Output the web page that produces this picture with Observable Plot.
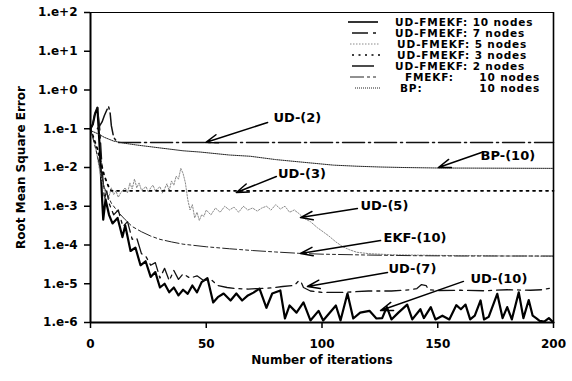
<!DOCTYPE html>
<html><head><meta charset="utf-8">
<script src="https://cdn.jsdelivr.net/npm/d3@7"></script>
<script src="https://cdn.jsdelivr.net/npm/@observablehq/plot@0.6"></script>
<style>
body{margin:0;background:#fff;}
#wrap{position:relative;width:572px;height:381px;font-family:"DejaVu Sans",sans-serif;font-weight:bold;color:#000;}
.leg{position:absolute;font-size:10.5px;line-height:11px;letter-spacing:0.85px;white-space:nowrap;}
</style></head><body><div id="wrap"></div>
<script>
const xTicks = [0, 50, 100, 150, 200];
const yTicks = [1e2, 1e1, 1e0, 1e-1, 1e-2, 1e-3, 1e-4, 1e-5, 1e-6];
const yTickLabels = ["1.e+2", "1.e+1", "1.e+0", "1.e-1", "1.e-2", "1.e-3", "1.e-4", "1.e-5", "1.e-6"];
const xTitle = "Number of iterations";
const yTitle = "Root Mean Square Error";
const legendLabels = ["UD-FMEKF:", "UD-FMEKF:", "UD-FMEKF:", "UD-FMEKF:", "UD-FMEKF:", "FMEKF:", "BP:"];
const legendCounts = ["10 nodes", "7 nodes", "5 nodes", "3 nodes", "2 nodes", "10 nodes", "10 nodes"];

// [iteration, RMSE]
const ud10 = [[0,0.1],[1,0.13],[2,0.25],[3,0.35],[4,0.03],[5,1.6e-3],[5.5,4.5e-4],[6.5,1.5e-3],[8,6e-4],[9.5,3.6e-4],[11.7,5e-4],[13.8,1.6e-4],[15,3.2e-4],[17.3,7e-5],[19.4,8.6e-5],[21.6,3e-5],[23.8,3.8e-5],[26,1.5e-5],[28,2e-5],[30,8e-6],[32,1e-5],[34,6e-6],[36,8e-6],[38,5e-6],[40,7e-6],[42,5.5e-6],[44,9e-6],[46,6e-6],[48,1.1e-5],[50.5,1.4e-5],[53,3.3e-6],[55,4.5e-6],[57.5,5.6e-6],[60.5,3.7e-6],[63,5.6e-6],[65.5,3.7e-6],[68,5e-6],[70.4,5.9e-6],[73,7.5e-6],[76,2.4e-6],[78.5,5.6e-6],[82,6.7e-6],[84,1.27e-6],[86,2.75e-6],[89,1.8e-6],[92,3.3e-6],[95,1.13e-6],[98.5,2e-6],[100.5,1.13e-6],[106,2.75e-6],[108,1.13e-6],[111,5.6e-6],[113.5,1.27e-6],[116.5,1.8e-6],[120.5,2e-6],[123.5,1.27e-6],[126,1.3e-6],[128,2.5e-6],[130,1.2e-6],[133,1.8e-6],[136.8,2.9e-6],[139,1.2e-6],[142.5,2.2e-6],[144,1.3e-6],[147,2.5e-6],[149,1.2e-6],[152,1.5e-6],[155,1.2e-6],[158,2.8e-6],[160,2.2e-6],[162,2.9e-6],[164,1.2e-6],[166,1.5e-6],[168.5,3.7e-6],[170,1.2e-6],[172,1.4e-6],[175.7,5.5e-6],[178,1.3e-6],[180,2.5e-6],[182,1.2e-6],[185,6e-6],[187,1.3e-6],[189.3,3.8e-6],[191,1.5e-6],[192.5,1.3e-6],[194,1.1e-6],[196,1.05e-6],[198,1.3e-6],[200,1e-6]];
const ud7 = [[0,0.1],[1,0.13],[2,0.28],[3,0.35],[4,0.1],[5,0.01],[6,1.5e-3],[7,2.5e-3],[8,1.2e-3],[10,6e-4],[12,8e-4],[14,3e-4],[16,4e-4],[18,1.4e-4],[20,1.5e-4],[22,6e-5],[24,5e-5],[26,3e-5],[28,3.5e-5],[30,1.4e-5],[32,2.5e-5],[34,1.2e-5],[36,2.2e-5],[38,1.3e-5],[40,1.8e-5],[43,1.4e-5],[46,1.6e-5],[49,1.2e-5],[52,1.3e-5],[55,9e-6],[59,8e-6],[63,7.5e-6],[68,7.3e-6],[72,7.5e-6],[78,7.8e-6],[83,8.5e-6],[88,9e-6],[90,1.2e-5],[91,1.1e-5],[92,8e-6],[95,6.5e-6],[100,6e-6],[110,6e-6],[120,6.5e-6],[130,6.5e-6],[138,7e-6],[141,7.5e-6],[143,9.5e-6],[145,9e-6],[146,7e-6],[150,6.7e-6],[160,6.8e-6],[170,6.6e-6],[180,7e-6],[190,6.8e-6],[195,7e-6],[200,8e-6]];
const ud5 = [[0,0.1],[2,0.04],[4,8e-3],[6,2.5e-3],[8,1.8e-3],[9,3e-3],[10,2e-3],[11,2.5e-3],[12,1.7e-3],[13,2.2e-3],[15,3e-3],[16,2.2e-3],[17,4e-3],[18,2.8e-3],[19,5e-3],[20,3e-3],[21,4e-3],[22,2.6e-3],[24,3.2e-3],[25,2.3e-3],[26,3e-3],[27,3.5e-3],[28,2.5e-3],[30,3.2e-3],[31,2.2e-3],[32,2.8e-3],[33,3.8e-3],[34,2.5e-3],[35,4.5e-3],[36,3.5e-3],[37,6e-3],[38,5e-3],[39,9.5e-3],[40,7e-3],[41,4e-3],[42,1.5e-3],[43,8e-4],[44,1.1e-3],[45,5e-4],[46,7e-4],[47,4.3e-4],[48,6e-4],[49,5.5e-4],[50,8e-4],[52,6e-4],[54,9e-4],[56,7e-4],[58,1e-3],[60,8e-4],[62,9.5e-4],[64,7e-4],[66,1e-3],[68,8e-4],[70,9e-4],[72,7.5e-4],[74,9e-4],[76,1e-3],[78,8e-4],[80,1.1e-3],[82,8.5e-4],[84,1e-3],[86,7e-4],[88,8e-4],[90,6.5e-4],[92,5e-4],[95,4e-4],[98,2.8e-4],[100,2.3e-4],[103,1.7e-4],[106,1.2e-4],[109,9e-5],[112,7.5e-5],[115,6.5e-5],[120,6e-5],[130,5.6e-5],[140,5.5e-5],[150,5.4e-5],[160,5.3e-5],[170,5.3e-5],[180,5.2e-5],[190,5.2e-5],[200,5.1e-5]];
const ud3 = [[0,0.1],[3,0.03],[6,6e-3],[8,3e-3],[9,2.5e-3],[200,2.5e-3]];
const ud2 = [[3,0.1],[4,0.12],[5,0.15],[6,0.22],[7,0.3],[7.8,0.38],[8.5,0.25],[9,0.12],[10,0.06],[11,0.05],[12,0.044],[200,0.044]];
const ekf10 = [[0,0.1],[3,0.02],[6,3e-3],[9,1.2e-3],[12,7e-4],[15,4.5e-4],[18,3e-4],[22,2.2e-4],[26,1.7e-4],[30,1.4e-4],[35,1.2e-4],[40,1.05e-4],[50,9e-5],[60,8e-5],[70,7.2e-5],[80,6.6e-5],[90,6.1e-5],[100,5.8e-5],[120,5.5e-5],[140,5.3e-5],[160,5.2e-5],[180,5.2e-5],[200,5.2e-5]];
const bp10 = [[0,0.09],[3,0.075],[6,0.06],[10,0.048],[15,0.042],[20,0.038],[30,0.032],[40,0.027],[47.5,0.025],[60,0.021],[69,0.0195],[80,0.016],[90,0.014],[105,0.0115],[115,0.0108],[125,0.0103],[135,0.01],[150,0.0097],[200,0.0095]];

// annotations: label, text anchor point, arrow tail, arrow head (data units)
const annotations = [
  {label:"UD-(2)", tx:79, ty:0.195, x1:76.5, y1:0.145, x2:49.7, y2:0.044},
  {label:"UD-(3)", tx:81, ty:7e-3, x1:80.3, y1:5.86e-3, x2:63, y2:2.26e-3},
  {label:"UD-(5)", tx:116.6, ty:1.05e-3, x1:115.3, y1:8.7e-4, x2:90.7, y2:5.1e-4},
  {label:"EKF-(10)", tx:126.6, ty:1.56e-4, x1:125.3, y1:1.3e-4, x2:90.7, y2:6.04e-5},
  {label:"UD-(7)", tx:128.7, ty:2.48e-5, x1:128.3, y1:1.95e-5, x2:93.7, y2:8.5e-6},
  {label:"UD-(10)", tx:164.1, ty:1.36e-5, x1:161.1, y1:1.15e-5, x2:125.3, y2:2.04e-6},
  {label:"BP-(10)", tx:168.5, ty:0.0204, x1:168.9, y1:0.0244, x2:150.3, y2:0.01}
];

const seriesData = [ud10, ud7, ud5, ud3, ud2, ekf10, bp10];
const styles = [
  {stroke:"#000", strokeWidth:2.2, strokeDasharray:null},
  {stroke:"#111", strokeWidth:1.3, strokeDasharray:"16,5,3,5"},
  {stroke:"#8a8a8a", strokeWidth:1, strokeDasharray:"1.5,1.5"},
  {stroke:"#000", strokeWidth:1.8, strokeDasharray:"2,4.5"},
  {stroke:"#111", strokeWidth:1.5, strokeDasharray:"22,4,2,4"},
  {stroke:"#222", strokeWidth:1, strokeDasharray:"14,3,3,3,3,3"},
  {stroke:"#222", strokeWidth:1, strokeDasharray:"1,1"}
];

const lineMarks = seriesData.map((s, i) => Plot.line(s, {
  x: d => d[0], y: d => d[1],
  stroke: styles[i].stroke, strokeWidth: styles[i].strokeWidth,
  strokeDasharray: styles[i].strokeDasharray, strokeLinejoin: "round"
}));

const chart = Plot.plot({
  width: 572, height: 381,
  marginLeft: 90, marginRight: 19, marginTop: 12, marginBottom: 59,
  style: {fontFamily: "DejaVu Sans, sans-serif", fontWeight: "bold", fontSize: "12px", color: "#000", background: "#fff"},
  x: {domain: [0, 200]},
  y: {type: "log", domain: [1e-6, 1e2]},
  marks: [
    Plot.frame({stroke: "#000", strokeWidth: 1}),
    Plot.axisX({ticks: xTicks, tickSize: 6, tickPadding: 11, strokeWidth: 1.5, label: null, fontSize: 12}),
    Plot.axisY({ticks: yTicks, tickFormat: d => yTickLabels[yTicks.indexOf(d)], tickSize: 6, tickPadding: 7, strokeWidth: 1.5, label: null, fontSize: 12}),
    ...lineMarks,
    Plot.ruleX([0], {stroke: "#000", strokeWidth: 2}),
    Plot.ruleX([200], {stroke: "#000", strokeWidth: 1.6}),
    Plot.ruleY([1e-6], {stroke: "#000", strokeWidth: 2}),
    Plot.arrow(annotations, {x1: "x1", y1: "y1", x2: "x2", y2: "y2", stroke: "#000", strokeWidth: 1.5, headLength: 13, headAngle: 38}),
    Plot.text(annotations, {x: "tx", y: "ty", text: "label", textAnchor: "start", fontSize: 13, fontWeight: "bold", fill: "#000"}),
    Plot.text([xTitle], {frameAnchor: "bottom", lineAnchor: "middle", dy: 38, text: d => d, fontSize: 12, fontWeight: "bold"}),
    Plot.text([yTitle], {frameAnchor: "left", textAnchor: "middle", lineAnchor: "middle", dx: -69, rotate: -90, text: d => d, fontSize: 12, fontWeight: "bold"})
  ]
});

const wrap = document.getElementById("wrap");
wrap.appendChild(chart);

// legend overlay
const rowTop = 22, rowStep = 11;
const textLeft = [395, 395, 397, 397, 395, 405, 400];
const legSvgNS = "http://www.w3.org/2000/svg";
const legSvg = document.createElementNS(legSvgNS, "svg");
legSvg.setAttribute("width", 572); legSvg.setAttribute("height", 381);
legSvg.style.position = "absolute"; legSvg.style.left = "0"; legSvg.style.top = "0";
const lineX = [[348,378],[352,377],[350,380],[352,380],[352,377],[350,378],[355,380]];
legendLabels.forEach((lab, i) => {
  const y = rowTop + i * rowStep;
  const ln = document.createElementNS(legSvgNS, "line");
  ln.setAttribute("x1", lineX[i][0]); ln.setAttribute("x2", lineX[i][1]);
  ln.setAttribute("y1", y); ln.setAttribute("y2", y);
  ln.setAttribute("stroke", styles[i].stroke);
  ln.setAttribute("stroke-width", Math.min(styles[i].strokeWidth, 1.6));
  if (styles[i].strokeDasharray) ln.setAttribute("stroke-dasharray", styles[i].strokeDasharray);
  legSvg.appendChild(ln);
  const t = document.createElement("div");
  t.className = "leg"; t.style.left = textLeft[i] + "px"; t.style.top = (y - 5.5) + "px";
  t.textContent = i < 5 ? lab + " " + legendCounts[i] : lab;
  wrap.appendChild(t);
  if (i >= 5) {
    const c = document.createElement("div");
    c.className = "leg"; c.style.right = (572 - 540) + "px"; c.style.top = (y - 5.5) + "px";
    c.textContent = legendCounts[i];
    wrap.appendChild(c);
  }
});
wrap.appendChild(legSvg);
</script></body></html>
